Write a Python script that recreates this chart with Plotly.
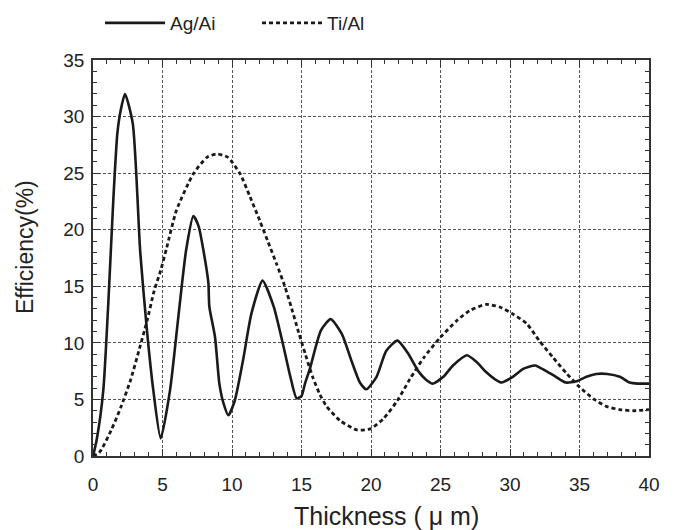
import plotly.graph_objects as go

# Ag/Ai (solid)
ag_x = [0, 0.26, 0.74, 1.1, 1.46, 1.75, 2.0, 2.3, 2.86, 3.4, 3.86, 4.34, 4.87, 5.54, 6.14, 6.7, 7.22, 7.6, 7.94, 8.3, 8.37, 8.78, 9.09, 9.38, 9.74, 10.2, 10.8, 11.4, 12.2, 13.0, 13.7, 14.2, 14.65, 15.0, 15.25, 15.6, 16.4, 17.1, 17.9, 18.6, 19.2, 19.66, 20.4, 21.1, 21.9, 22.7, 23.4, 24.0, 24.45, 25.2, 25.9, 26.9, 27.6, 28.3, 28.9, 29.4, 30.2, 30.95, 31.8, 32.6, 33.3, 34.0, 34.8, 35.5, 36.2, 37.0, 37.9, 38.6, 39.2, 40]
ag_y = [0, 1.4, 5.8, 13.5, 22.6, 28.5, 30.6, 32.0, 29.4, 18.0, 11.4, 5.8, 1.56, 5.8, 12.3, 18.2, 21.2, 20.3, 18.2, 15.3, 13.2, 10.5, 6.4, 4.7, 3.6, 4.9, 8.5, 12.6, 15.5, 13.2, 9.7, 7.0, 5.1, 5.3, 6.4, 7.7, 11.1, 12.1, 10.8, 8.4, 6.5, 5.9, 7.0, 9.3, 10.2, 9.0, 7.5, 6.7, 6.4, 7.0, 8.0, 8.9, 8.3, 7.4, 6.8, 6.5, 7.0, 7.7, 8.0, 7.5, 7.0, 6.5, 6.6, 7.0, 7.25, 7.25, 7.0, 6.5, 6.4, 6.4]

# Ti/Al (dotted)
ti_x = [0, 0.45, 1.3, 2.0, 2.7, 3.3, 3.9, 4.4, 4.87, 5.3, 6.0, 7.2, 8.2, 8.9, 9.7, 10.6, 11.3, 12.0, 12.6, 13.2, 13.8, 14.3, 14.8, 15.3, 15.8, 16.3, 16.8, 17.8, 19.0, 19.95, 20.9, 21.9, 22.8, 23.8, 25.0, 26.2, 27.1, 28.3, 29.3, 30.2, 31.2, 32.1, 33.1, 34.1, 35.0, 36.0, 36.9, 37.9, 38.9, 40]
ti_y = [0, 0.3, 2.25, 4.3, 6.7, 9.3, 12.0, 14.6, 16.4, 18.4, 21.7, 24.9, 26.4, 26.7, 26.4, 24.9, 22.9, 20.8, 18.9, 17.0, 15.0, 13.0, 10.9, 8.9, 7.0, 5.5, 4.4, 3.1, 2.3, 2.4, 3.3, 4.9, 6.8, 8.7, 10.5, 12.0, 12.85, 13.4, 13.15, 12.55, 11.7, 10.2, 8.7, 7.25, 6.1, 5.05, 4.4, 4.1, 4.0, 4.1]

x_ticks = [0, 5, 10, 15, 20, 25, 30, 35, 40]
y_ticks = [0, 5, 10, 15, 20, 25, 30, 35]

x_title = "Thickness ( μ m)"
y_title = "Efficiency(%)"

FONT = "Liberation Sans, Arial"

fig = go.Figure()
fig.add_trace(go.Scatter(x=ag_x, y=ag_y, mode="lines", name="Ag/Ai",
                         line=dict(color="#1a1a1a", width=2.6, shape="spline", smoothing=0.6)))
fig.add_trace(go.Scatter(x=ti_x, y=ti_y, mode="lines", name="Ti/Al",
                         line=dict(color="#1a1a1a", width=2.8, dash="4px,3px", shape="spline", smoothing=0.6)))

axis_common = dict(
    showline=True, linecolor="#333", linewidth=1.6, mirror="allticks",
    ticks="inside", ticklen=7, tickcolor="#333", tickwidth=1,
    showgrid=True, gridcolor="#555", gridwidth=1, griddash="3px,2px",
    zeroline=False, automargin=False,
    tickfont=dict(family=FONT, size=19, color="#222"),
)

fig.update_xaxes(range=[0, 40], tickvals=x_ticks, ticktext=[str(v) for v in x_ticks],
                 minor=dict(dtick=1, ticks="inside", ticklen=4, tickcolor="#333", showgrid=False),
                 ticklabelstandoff=10, **axis_common)
fig.update_yaxes(range=[0, 35], tickvals=y_ticks, ticktext=[str(v) for v in y_ticks],
                 minor=dict(dtick=1, ticks="inside", ticklen=4, tickcolor="#333", showgrid=False),
                 ticklabelstandoff=3, **axis_common)

# axis titles placed as annotations (plot area spans 556 x 396 px)
fig.add_annotation(text=x_title, xref="paper", yref="paper",
                   x=(386 - 93) / 556, y=-(516 - 456) / 396,
                   xanchor="center", yanchor="middle", showarrow=False,
                   font=dict(family=FONT, size=25, color="#222"))
fig.add_annotation(text=y_title, xref="paper", yref="paper",
                   x=(25 - 93) / 556, y=(456 - 247) / 396, textangle=-90,
                   xanchor="center", yanchor="middle", showarrow=False,
                   font=dict(family=FONT, size=23, color="#222"))

fig.update_layout(
    width=675, height=530,
    margin=dict(l=85, r=34, t=52, b=82, autoexpand=False),
    plot_bgcolor="white", paper_bgcolor="white",
    showlegend=True,
    legend=dict(orientation="h", x=0.0126, y=(530 - 15) / 530, xanchor="left", yanchor="middle",
                yref="container",
                font=dict(family=FONT, size=19, color="#222"),
                itemwidth=60, entrywidth=82, bgcolor="rgba(0,0,0,0)"),
)

fig.write_html("out.html")
